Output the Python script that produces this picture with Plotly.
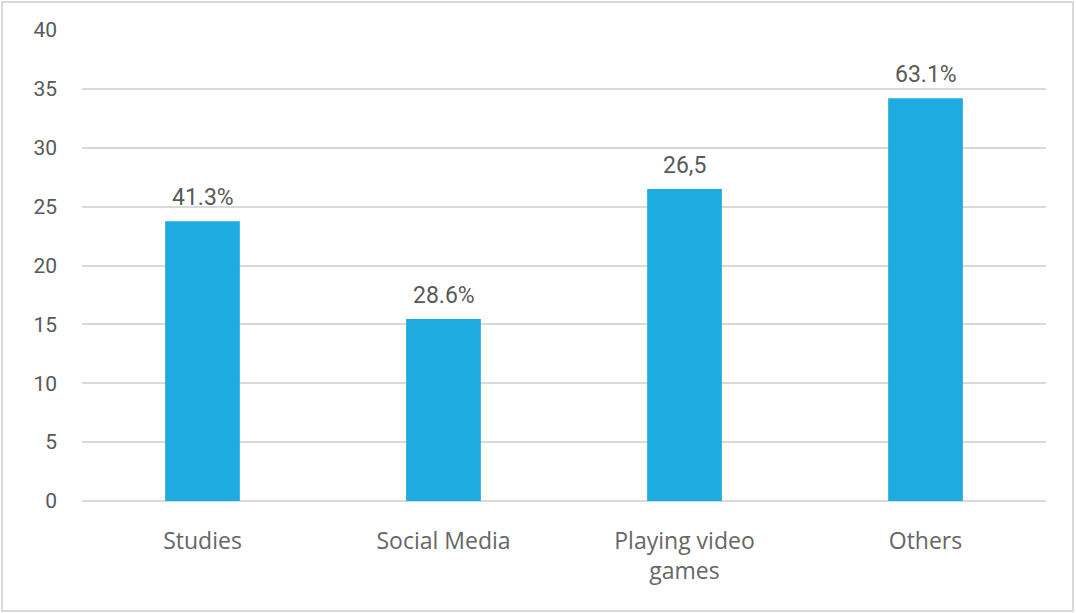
import plotly.graph_objects as go

# Activity categories and their values
categories = ["Studies", "Social Media", "Playing video<br>games", "Others"]
values = [23.75, 15.45, 26.5, 34.2]
bar_labels = ["41.3%", "28.6%", "26,5", "63.1%"]
y_ticks = [0, 5, 10, 15, 20, 25, 30, 35, 40]

W, H = 1076, 613
ml, mr, mt, mb = 82, 30, 30, 112
pw, ph = W - ml - mr, H - mt - mb

fig = go.Figure(
    go.Bar(
        x=categories,
        y=values,
        marker=dict(color="#1EABE2", line=dict(width=0)),
        width=0.31,
        hoverinfo="x+y",
    )
)

# value labels above each bar
for cat, val, lab in zip(categories, values, bar_labels):
    fig.add_annotation(
        x=cat, y=val, text=lab,
        showarrow=False, yanchor="bottom", yshift=8,
        font=dict(family="Roboto", size=23, color="#595959"),
    )

# thin outline around the whole chart
fig.add_shape(
    type="rect",
    xref="paper", yref="paper",
    x0=(2 - ml) / pw, x1=(1073 - ml) / pw,
    y0=-(611 - mt - ph) / ph, y1=1 + (mt - 2) / ph,
    line=dict(color="#d9d9d9", width=2),
    fillcolor="rgba(0,0,0,0)",
    layer="below",
)

fig.update_layout(
    width=W, height=H,
    margin=dict(l=ml, r=mr, t=mt, b=mb),
    paper_bgcolor="white",
    plot_bgcolor="white",
    showlegend=False,
    font=dict(family="Roboto", color="#595959"),
    xaxis=dict(
        showgrid=False,
        showline=False,
        ticks="",
        tickfont=dict(family="Open Sans", size=23, color="#666666"),
        ticklabelstandoff=24,
    ),
    yaxis=dict(
        range=[0, 40],
        tickvals=y_ticks,
        showgrid=True,
        gridcolor="#d9d9d9",
        gridwidth=1.5,
        zeroline=True,
        zerolinecolor="#d9d9d9",
        zerolinewidth=1.5,
        showline=False,
        ticks="",
        tickfont=dict(family="Roboto", size=21, color="#595959"),
        ticklabelstandoff=24,
    ),
)

fig.write_html("out.html")
